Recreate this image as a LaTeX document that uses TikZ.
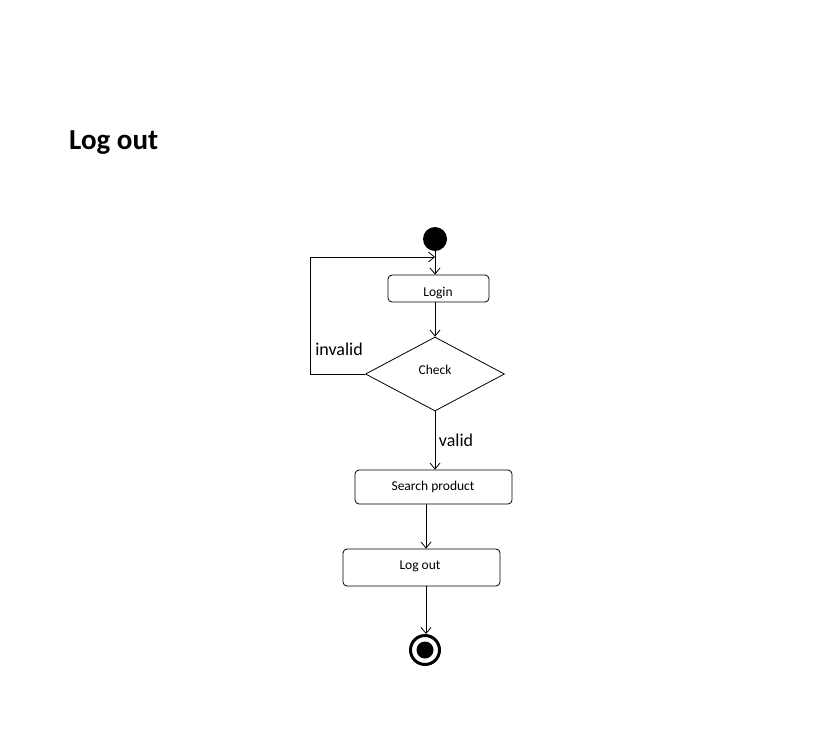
\documentclass[tikz,border=0pt]{standalone}
\usepackage{fontspec}
\setmainfont{Carlito}
\usetikzlibrary{arrows.meta,shapes.geometric,calc}
\begin{document}
\begin{tikzpicture}[x=1pt,y=-1pt,
  actbox/.style={draw,rounded corners=4pt,line width=0.8pt,inner sep=0pt},
  boxtxt/.style={font=\fontsize{13.5}{16}\selectfont,inner sep=0pt},
  flow/.style={draw,line width=0.8pt,-{Straight Barb[length=6pt,width=10pt]}},
  lbl/.style={font=\fontsize{18}{21}\selectfont,inner sep=0pt}]
\useasboundingbox (0,0) rectangle (821,747);
\node[font=\bfseries\fontsize{29}{34}\selectfont,anchor=west,inner sep=0pt] (title) at (69,143) {Log out};
\node[circle,fill=black,minimum size=24pt,inner sep=0pt] (start) at (435,239) {};
\node[actbox,minimum width=101pt,minimum height=27pt] (login) at (438.5,288.5) {};
\node[boxtxt] (logintxt) at (438,293) {Login};
\node[draw,diamond,line width=0.8pt,minimum width=139pt,minimum height=74pt,inner sep=0pt,aspect=1.88] (check) at (435,374) {};
\node[boxtxt] (checktxt) at (435,370) {Check};
\node[actbox,minimum width=157pt,minimum height=34pt] (search) at (433.5,487) {};
\node[boxtxt] (searchtxt) at (433,487) {Search product};
\node[actbox,minimum width=157pt,minimum height=37pt] (logout) at (421.5,567.5) {};
\node[boxtxt] (logouttxt) at (420,566) {Log out};
\node[circle,draw,line width=3pt,minimum size=29pt,inner sep=0pt] (endn) at (425,650) {};
\node[circle,fill=black,minimum size=17pt,inner sep=0pt] (endin) at (425,650) {};
\coordinate (join) at (435,257);
\coordinate (loopt) at (310,257);
\coordinate (lane) at (426,0);
\node[lbl] (invalid) at (339,349) {invalid};
\node[lbl] (valid) at (456,440) {valid};
\draw[flow] (start.south) -- (start.south |- login.north);
\draw[flow] (check.west) -- (check.west -| loopt) -- (loopt) -- (join);
\draw[flow] (start.south |- login.south) -- (check.north);
\draw[flow] (check.south) -- (check.south |- search.north);
\draw[flow] (lane |- search.south) -- (lane |- logout.north);
\draw[flow] (lane |- logout.south) -- (lane |- endn.north);
\end{tikzpicture}
\end{document}
